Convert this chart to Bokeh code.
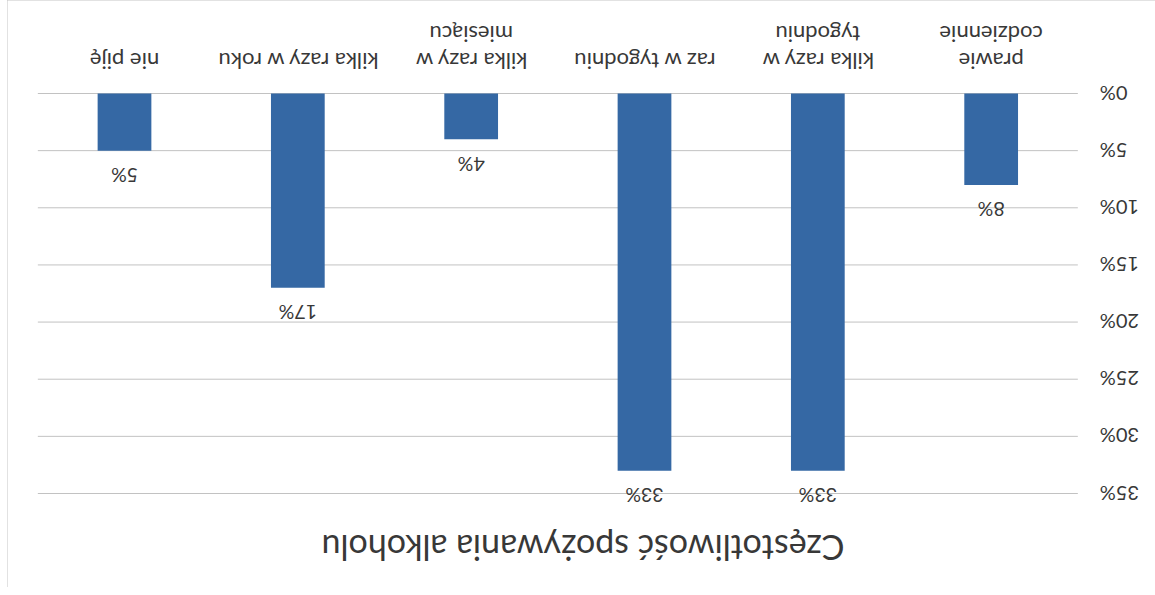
import math
from bokeh.plotting import figure
from bokeh.models import Range1d, ColumnDataSource, Label
from bokeh.core.properties import value
from bokeh.embed import file_html
from bokeh.resources import INLINE

# Data (original chart order; the scanned chart is rotated by 180°)
categories = ["prawie\ncodziennie", "kilka razy w\ntygodniu", "raz w tygodniu",
              "kilka razy w\nmiesiącu", "kilka razy w roku", "nie piję"]
values = [8, 33, 33, 4, 17, 5]
labels = ["8%", "33%", "33%", "4%", "17%", "5%"]
y_ticks = [0, 5, 10, 15, 20, 25, 30, 35]
y_tick_labels = ["0%", "5%", "10%", "15%", "20%", "25%", "30%", "35%"]
title_text = "Częstotliwość spożywania alkoholu"

FONT = "Lato"
TEXT_COLOR = "#383838"
BAR_COLOR = "#3568A4"
GRID_COLOR = "#c2c2c2"

# ---- layout (page pixels of the scanned picture) ----
W, H = 1148, 587            # figure size (placed 7px from the left page edge)
FIG_X0 = 7
CAT_W = 1040 / len(categories)      # pixel width of one category slot
FIRST_CENTER = 124                   # page x of the left-most category centre
ZERO_Y, PX_PER_UNIT = 93, 400 / 35   # page y of 0%, pixels per percent

n = len(categories)
idx = list(range(n))
# upside-down scan: both ranges are reversed (categories right-to-left, 0% on top)
x_left = (n - 1) + (FIRST_CENTER - FIG_X0) / CAT_W
x_right = (n - 1) - (FIG_X0 + W - FIRST_CENTER) / CAT_W
y_bottom = (H - ZERO_Y) / PX_PER_UNIT
y_top = -ZERO_Y / PX_PER_UNIT

p = figure(width=W, height=H, output_backend="svg", toolbar_location=None,
           x_range=Range1d(start=x_left, end=x_right),
           y_range=Range1d(start=y_bottom, end=y_top),
           x_axis_location=None, y_axis_location=None,
           min_border=0)
p.grid.visible = False
p.outline_line_color = None
p.background_fill_color = "white"
p.border_fill_color = "white"
p.styles = {"outline": "1px solid #c4c4c4", "outline-offset": "-1px",
            "margin-left": "7px"}

# horizontal grid lines across the category area
grid_src = ColumnDataSource(dict(t=y_ticks, lab=y_tick_labels,
                                 x0=[-0.5] * len(y_ticks),
                                 x1=[n - 0.5] * len(y_ticks)))
p.segment(x0="x0", x1="x1", y0="t", y1="t", source=grid_src,
          line_color=GRID_COLOR, line_width=1)

src = ColumnDataSource(dict(i=idx, cat=categories, val=values, lab=labels,
                            zero=[0] * n))
p.vbar(x="i", top="val", bottom=0, width=0.31, source=src,
       fill_color=BAR_COLOR, line_color=None)

# value labels beyond the bar ends
p.text(x="i", y="val", text="lab", source=src, angle=math.pi,
       text_align="center", text_baseline="middle", y_offset=25,
       text_font=value(FONT), text_font_size="19.5px", text_color=TEXT_COLOR)

# category labels (rotated 180°, above the 0% line)
p.text(x="i", y="zero", text="cat", source=src, angle=math.pi,
       text_align="center", text_baseline="top", y_offset=-19,
       text_font=value(FONT), text_font_size="22px", text_line_height=0.98,
       text_color=TEXT_COLOR)

# value-axis tick labels (rotated 180°, right of the grid)
p.text(x="x0", y="t", text="lab", source=grid_src, angle=math.pi,
       text_align="right", text_baseline="middle", x_offset=22,
       text_font=value(FONT), text_font_size="20px", text_color=TEXT_COLOR)

title = Label(x=582.5 - FIG_X0, y=39, x_units="screen", y_units="screen",
              text=title_text, angle=math.pi, text_align="center",
              text_baseline="middle", text_font=FONT, text_font_size="34px",
              text_color=TEXT_COLOR)
p.add_layout(title)

open("out.html", "w").write(file_html(p, INLINE))
